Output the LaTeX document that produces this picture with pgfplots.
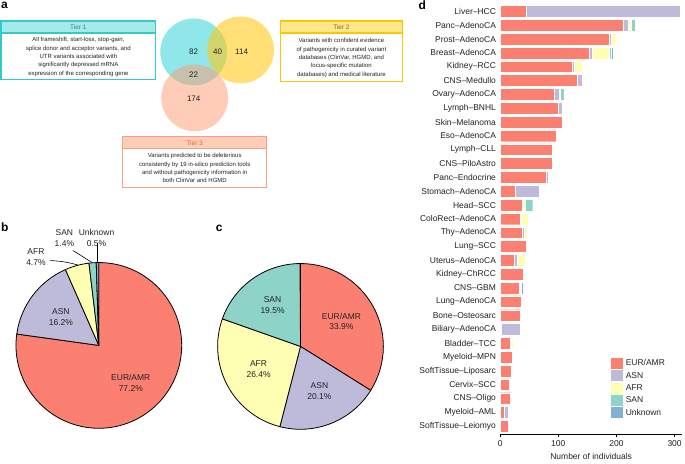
\documentclass[border=0pt]{standalone}
\usepackage{pgfplots}
\pgfplotsset{compat=1.18}
\usepackage{pgfplotstable}
\usepackage{fontspec}
\setmainfont{Liberation Sans}
\definecolor{cEUR}{HTML}{FB8072}
\definecolor{cASN}{HTML}{BEBADA}
\definecolor{cAFR}{HTML}{FFFFB3}
\definecolor{cSAN}{HTML}{8DD3C7}
\definecolor{cUNK}{HTML}{80B1D3}
\definecolor{txt}{HTML}{222222}
\definecolor{vCyan}{HTML}{1FCFD6}
\definecolor{vYel}{HTML}{FFCA1A}
\definecolor{vSal}{HTML}{FF9A70}
\definecolor{t1b}{HTML}{33CACD}
\definecolor{t1f}{HTML}{A6E9EB}
\definecolor{t1t}{HTML}{3A8587}
\definecolor{t2b}{HTML}{F8C800}
\definecolor{t2f}{HTML}{FFE78C}
\definecolor{t2t}{HTML}{7D6A2A}
\definecolor{t3b}{HTML}{F7A07F}
\definecolor{t3f}{HTML}{FFCDB8}
\definecolor{t3t}{HTML}{E8603A}

\pgfplotstableread{
pos EUR ASN AFR SAN UNK
30 45 264 2 0 0
29 211 10 4 8 1
28 187 4 8 1 0
27 153 5 29 4 4
26 124 4 13 1 2
25 133 8 0 0 0
24 93 8 3 6 1
23 100 7 0 0 0
22 107 0 1 0 0
21 96 1 0 1 0
20 90 0 0 0 1
19 89 0 0 0 1
18 79 3 0 0 0
17 26 41 2 0 0
16 38 1 4 13 0
15 35 2 12 1 2
14 38 3 5 3 0
13 45 0 2 0 0
12 24 6 13 0 2
11 40 0 1 0 0
10 32 0 3 1 3
9 36 0 1 0 0
8 35 0 0 0 0
7 1 33 0 0 0
6 18 1 4 0 0
5 21 0 0 0 0
4 19 0 0 0 0
3 15 0 2 0 0
2 18 0 0 0 0
1 7 7 0 1 1
0 14 1 0 0 0
}\tumours

\newcommand{\fs}[1]{\fontsize{#1}{#1}\selectfont}
\gdef\curang{90}
\newcommand{\pie}[3]{% center x, center y, list
  \gdef\curang{90}%
  \foreach \p/\c in {#3}{%
    \pgfmathsetmacro{\endang}{\curang-3.6*\p}%
    \filldraw[fill=\c, draw=black, line width=0.8pt, line join=round]
      (#1,#2) -- ++(\curang:83pt) arc[start angle=\curang, end angle=\endang, radius=83pt] -- cycle;
    \xdef\curang{\endang}%
  }%
}

\begin{document}
\begin{tikzpicture}[x=1pt,y=1pt]
\path (0,0) rectangle (685,461);

% panel letters
\node[font=\bfseries\fs{12}, anchor=base west, inner sep=0pt] at (1,452) {a};
\node[font=\bfseries\fs{12}, anchor=base west, inner sep=0pt] at (1,229.5) {b};
\node[font=\bfseries\fs{12}, anchor=base west, inner sep=0pt] at (216,229.5) {c};
\node[font=\bfseries\fs{12}, anchor=base west, inner sep=0pt] at (419,451) {d};

% ---------- panel a: Venn ----------
\fill[vCyan, opacity=0.5] (194,409) circle[radius=33.5pt];
\fill[vYel, opacity=0.6] (241,411) circle[radius=33.5pt];
\fill[vSal, opacity=0.5] (195,363) circle[radius=33.5pt];
\begin{scope}[every node/.style={font=\fs{8}, text=txt}]
\node at (194,409) {82};
\node at (218,409) {40};
\node at (242,409) {114};
\node at (194,386) {22};
\node at (194,362) {174};
\end{scope}

% Tier boxes
\begin{scope}[line width=1.2pt]
% Tier 1
\fill[t1f] (1,428) rectangle (156,440);
\draw[t1b] (1,381) rectangle (156,440);
\draw[t1b] (1,428) -- (156,428);
\node[font=\fs{6.5}, text=t1t] at (78.5,434) {Tier 1};
\node[font=\fontsize{6}{8.4}\selectfont, text=txt, align=center] at (78.5,404)
 {All frameshift, start-loss, stop-gain,\\splice donor and acceptor variants, and\\UTR variants associated with\\significantly depressed mRNA\\expression of the corresponding gene};
% Tier 2
\fill[t2f] (281,428) rectangle (403,440);
\draw[t2b] (281,379) rectangle (403,440);
\draw[t2b] (281,428) -- (403,428);
\node[font=\fs{6.5}, text=t2t] at (342,434) {Tier 2};
\node[font=\fontsize{6}{8.4}\selectfont, text=txt, align=center] at (342,403)
 {Variants with confident evidence\\of pathogenicity in curated variant\\databases (ClinVar, HGMD, and\\locus-specific mutation\\databases) and medical literature};
% Tier 3
\fill[t3f] (123,312) rectangle (267,324);
\draw[t3b] (123,273) rectangle (267,324);
\draw[t3b] (123,312) -- (267,312);
\node[font=\fs{6.5}, text=t3t] at (195,318) {Tier 3};
\node[font=\fontsize{6}{8.4}\selectfont, text=txt, align=center] at (195,292.5)
 {Variants predicted to be deleterious\\consistently by 19 in-silico prediction tools\\and without pathogenicity information in\\both ClinVar and HGMD};
\end{scope}

% ---------- panel b ----------
\pie{99}{115}{77.2/cEUR,16.2/cASN,4.7/cAFR,1.4/cSAN,0.5/cUNK}
\begin{scope}[every node/.style={font=\fontsize{8.5}{11}\selectfont, text=txt, align=center}]
\node at (131,77.5) {EUR/AMR\\77.2\%};
\node at (61,143.5) {ASN\\16.2\%};
\node at (36,203) {AFR\\4.7\%};
\node at (64.5,223) {SAN\\1.4\%};
\node at (96.7,223) {Unknown\\0.5\%};
\end{scope}
\draw[line width=0.6pt] (50,200) .. controls (63,199.5) and (71,197.5) .. (78,195.5);
\draw[line width=0.6pt] (73,210) .. controls (80,206) and (87,201) .. (92.5,198);
\draw[line width=0.6pt] (97.8,217.5) -- (97.8,198);

% ---------- panel c ----------
\pie{301}{114}{33.9/cEUR,20.1/cASN,26.4/cAFR,19.5/cSAN}
\begin{scope}[every node/.style={font=\fontsize{8.5}{11}\selectfont, text=txt, align=center}]
\node at (342,139) {EUR/AMR\\33.9\%};
\node at (320,69) {ASN\\20.1\%};
\node at (259,91.5) {AFR\\26.4\%};
\node at (273,155.5) {SAN\\19.5\%};
\end{scope}

% ---------- panel d ----------
\begin{axis}[
  at={(501pt,26pt)}, anchor=south west, scale only axis,
  width=182.3pt, height=430.5pt,
  xmin=0, xmax=313, ymin=-0.58, ymax=30.5,
  xbar stacked, bar width=0.85,
  axis x line*=bottom, axis y line*=left,
  y axis line style={draw=none}, ytick style={draw=none},
  x axis line style={line width=1pt, -},
  xtick={0,100,200,300}, tick align=outside, major tick length=3pt,
  xtick style={line width=0.8pt, color=black},
  ytick={0,...,30},
  yticklabels={SoftTissue--Leiomyo, Myeloid--AML, CNS--Oligo, Cervix--SCC, SoftTissue--Liposarc, Myeloid--MPN, Bladder--TCC, Biliary--AdenoCA, Bone--Osteosarc, Lung--AdenoCA, CNS--GBM, Kidney--ChRCC, Uterus--AdenoCA, Lung--SCC, Thy--AdenoCA, ColoRect--AdenoCA, Head--SCC, Stomach--AdenoCA, Panc--Endocrine, CNS--PiloAstro, Lymph--CLL, Eso--AdenoCA, Skin--Melanoma, Lymph--BNHL, Ovary--AdenoCA, CNS--Medullo, Kidney--RCC, Breast--AdenoCA, Prost--AdenoCA, Panc--AdenoCA, Liver--HCC},
  ticklabel style={font=\fs{8.5}, text=txt},
  yticklabel style={inner sep=1pt},
  /pgf/number format/assume math mode=true,
  xlabel={Number of individuals},
  xlabel style={font=\fs{8.5}, text=txt},
  legend style={at={(0.61,0.178)}, anchor=north west, draw=none, fill=none,
    font=\fs{8.5}, text=txt, inner sep=0pt, nodes={inner sep=0.7pt}, row sep=1.1pt, column sep=2.5pt},
  legend cell align=left,
  legsq/.style={legend image code/.code={\fill[##1, draw=none] (0pt,-5.6pt) rectangle (11.2pt,5.6pt);}},
]
\addplot[fill=cEUR, draw=white, line width=0.4pt, legsq] table[x=EUR, y=pos]{\tumours};
\addplot[fill=cASN, draw=white, line width=0.4pt, legsq] table[x=ASN, y=pos]{\tumours};
\addplot[fill=cAFR, draw=white, line width=0.4pt, legsq] table[x=AFR, y=pos]{\tumours};
\addplot[fill=cSAN, draw=white, line width=0.4pt, legsq] table[x=SAN, y=pos]{\tumours};
\addplot[fill=cUNK, draw=white, line width=0.4pt, legsq] table[x=UNK, y=pos]{\tumours};
\legend{EUR/AMR, ASN, AFR, SAN, Unknown}
\end{axis}
\end{tikzpicture}
\end{document}
